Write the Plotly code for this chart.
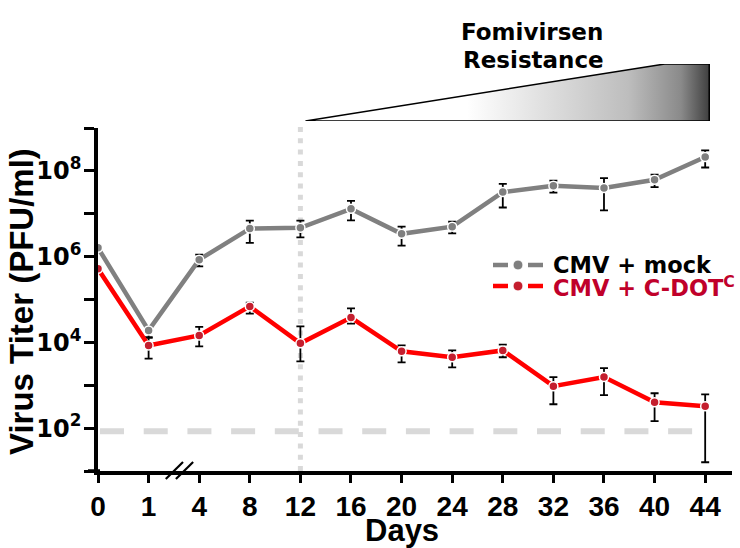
import plotly.graph_objects as go

# ---- data -------------------------------------------------------------
days = ["0", "1", "4", "8", "12", "16", "20", "24", "28", "32", "36", "40", "44"]

mock_titer = [1.6e6, 1.9e4, 8.5e5, 4.5e6, 4.7e6, 1.3e7, 3.4e6, 5.0e6, 3.2e7, 4.5e7, 4.0e7, 6.2e7, 2.1e8]
mock_err_hi = [1.5e5, 4.0e3, 2.6e5, 2.4e6, 2.2e6, 7.0e6, 1.6e6, 1.5e6, 1.8e7, 1.4e7, 2.8e7, 2.0e7, 9.0e7]
mock_err_lo = [1.5e5, 6.0e3, 2.6e5, 2.4e6, 1.9e6, 6.0e6, 1.6e6, 1.5e6, 1.8e7, 1.4e7, 2.8e7, 2.0e7, 9.0e7]

cdot_titer = [5.2e5, 8.5e3, 1.45e4, 6.9e4, 9.5e3, 3.8e4, 6.2e3, 4.5e3, 6.5e3, 950, 1550, 400, 324]
cdot_err_hi = [8.0e4, 4.5e3, 8.5e3, 1.6e4, 1.4e4, 2.4e4, 2.3e3, 2.0e3, 2.4e3, 600, 950, 250, 290]
cdot_err_lo = [8.0e4, 4.3e3, 6.4e3, 2.2e4, 5.9e3, 1.05e4, 2.8e3, 1.9e3, 2.0e3, 590, 960, 255, 308]

detection_limit = 85
resistance_start = "12"
y_decades = list(range(1, 10))
y_labels = ["" if k % 2 else f"10<sup>{k}</sup>" for k in y_decades]

# ---- geometry helpers ---------------------------------------------------
W, H = 740, 548
ML, MR, MT, MB = 98, 8, 0, 77
PW, PH = W - ML - MR, H - MT - MB
AX_TOP = 128  # pixel row of the top of the main y axis


def px(xp):
    return (xp - ML) / PW


def py(yp):
    return (H - MB - yp) / PH


FONT = "Liberation Sans, Arial, Helvetica, sans-serif"
WIDE = "DejaVu Sans, Verdana, sans-serif"
xi = list(range(len(days)))
i_res = days.index(resistance_start)

fig = go.Figure()

# limit of detection
fig.add_trace(go.Scatter(
    x=[0.04, len(days) - 1 - 0.16], y=[detection_limit, detection_limit],
    mode="lines", line=dict(color="#d9d9d9", width=6, dash="24px,19.7px"),
    hoverinfo="skip", showlegend=False))

series = [
    (mock_titer, mock_err_hi, mock_err_lo, "#808080", "#7f7f7f", "CMV + mock"),
    (cdot_titer, cdot_err_hi, cdot_err_lo, "#ff0000", "#c41e2e", "CMV + C-DOT<sup>C</sup>"),
]
for vals, ehi, elo, lc, mc, name in series:
    fig.add_trace(go.Scatter(
        x=xi, y=vals, name=name, mode="lines+markers",
        line=dict(color=lc, width=4.5),
        marker=dict(color=mc, size=9, line=dict(color="white", width=1.5)),
        error_y=dict(type="data", symmetric=False, array=ehi, arrayminus=elo,
                     color="black", thickness=1.8, width=4),
        cliponaxis=False, showlegend=False))

# resistance wedge above the plot
fig.add_trace(go.Scatter(
    x=[i_res + 0.1, 11.2, 12.08, 12.08, i_res + 0.1],
    y=[0, 1, 1, 0, 0],
    xaxis="x2", yaxis="y2", mode="lines", fill="toself",
    line=dict(color="black", width=1.5),
    fillgradient=dict(type="horizontal",
                      colorscale=[[0, "#ffffff"], [0.4, "#ffffff"], [0.8, "#bdbdbd"],
                                  [0.93, "#8a8a8a"], [1, "#404040"]]),
    hoverinfo="skip", showlegend=False))

shapes = [
    # dotted marker of resistance onset
    dict(type="line", xref="x", yref="paper", x0=i_res, x1=i_res,
         y0=0, y1=py(123), line=dict(color="#d9d9d9", width=5, dash="5px,6.3px"), layer="below"),
    # x axis line extends a little to the left of the y axis
    dict(type="line", xref="paper", yref="paper", x0=px(88), x1=px(100), y0=0, y1=0,
         line=dict(color="black", width=3.5)),
    # axis break marks
    dict(type="line", xref="x", yref="paper", x0=1.34, x1=1.68, y0=py(479), y1=py(462),
         line=dict(color="black", width=2.2)),
    dict(type="line", xref="x", yref="paper", x0=1.54, x1=1.88, y0=py(479), y1=py(462),
         line=dict(color="black", width=2.2)),
]

# legend drawn by hand
legend_rows = [(265, "#808080", "#7f7f7f", "CMV + mock", "black"),
               (286, "#ff0000", "#c41e2e", "CMV + C-DOT<sup>C</sup>", "#c0002a")]
annotations = []
for yy, lc, mc, label, tc in legend_rows:
    shapes.append(dict(type="line", xref="paper", yref="paper", x0=px(493), x1=px(543),
                       y0=py(yy), y1=py(yy), line=dict(color=lc, width=4.5, dash="15px,20px")))
    shapes.append(dict(type="circle", xref="paper", yref="paper", xsizemode="pixel",
                       ysizemode="pixel", xanchor=px(518), yanchor=py(yy),
                       x0=-5, x1=5, y0=-5, y1=5, fillcolor=mc, line=dict(color="white", width=1)))
    annotations.append(dict(text=label, xref="paper", yref="paper", x=px(551), y=py(yy),
                            xanchor="left", yanchor="middle", showarrow=False,
                            font=dict(family=WIDE, size=22.5, color=tc, weight="bold")))

annotations += [
    dict(text="Fomivirsen", xref="paper", yref="paper", x=px(532), y=py(32),
         xanchor="center", yanchor="middle", showarrow=False,
         font=dict(family=WIDE, size=23, color="black", weight="bold")),
    dict(text="Resistance", xref="paper", yref="paper", x=px(533), y=py(60),
         xanchor="center", yanchor="middle", showarrow=False,
         font=dict(family=WIDE, size=23, color="black", weight="bold")),
    dict(text="Virus Titer (PFU/ml)", textangle=-90, xref="paper", yref="paper",
         x=px(21), y=py(302), xanchor="center", yanchor="middle", showarrow=False,
         font=dict(family=FONT, size=33, color="black", weight="bold")),
    dict(text="Days", xref="x", yref="paper", x=6, y=py(530),
         xanchor="center", yanchor="middle", showarrow=False,
         font=dict(family=FONT, size=31, color="black", weight="bold")),
]

fig.update_layout(
    width=W, height=H, margin=dict(l=ML, r=MR, t=MT, b=MB),
    paper_bgcolor="white", plot_bgcolor="white",
    xaxis=dict(domain=[0, 1], range=[0, 12.53], tickvals=xi, ticktext=days,
               showline=True, linecolor="black", linewidth=3.5,
               ticks="outside", ticklen=8, tickwidth=3, tickcolor="black",
               tickfont=dict(family=FONT, size=28, color="black", weight="bold"),
               showgrid=False, zeroline=False),
    yaxis=dict(domain=[0, py(AX_TOP)], type="log", range=[1, 9],
               tickvals=[10 ** k for k in y_decades], ticktext=y_labels,
               showline=True, linecolor="black", linewidth=3.5,
               ticks="outside", ticklen=10, tickwidth=3, tickcolor="black",
               ticklabelstandoff=-2,
               tickfont=dict(family=WIDE, size=24, color="black", weight="bold"),
               showgrid=False, zeroline=False),
    xaxis2=dict(matches="x", anchor="y2", visible=False),
    yaxis2=dict(domain=[py(121), py(64)], range=[0, 1], anchor="x2", visible=False),
    shapes=shapes, annotations=annotations,
)

fig.write_html("out.html")
